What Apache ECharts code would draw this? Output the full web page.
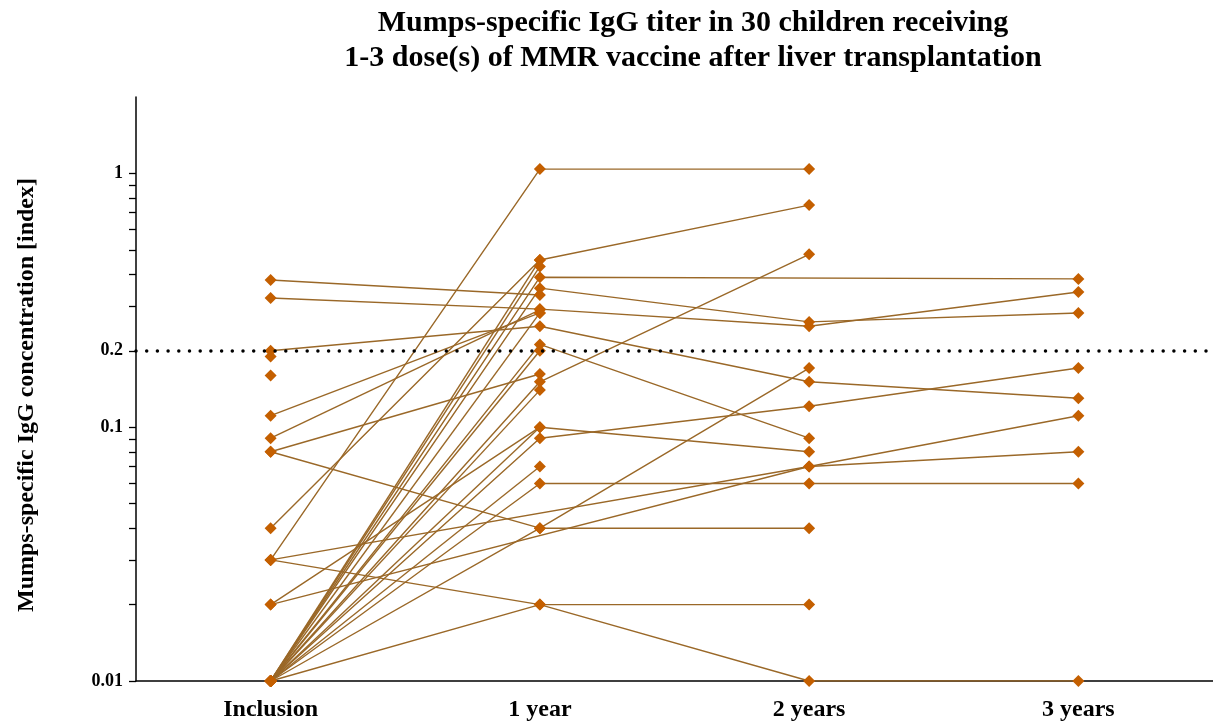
<!DOCTYPE html>
<html>
<head>
<meta charset="utf-8">
<script src="https://cdn.jsdelivr.net/npm/echarts@6/dist/echarts.min.js"></script>
<style>
html,body{margin:0;padding:0;background:#fff;}
#chart{width:1213px;height:723px;}
</style>
</head>
<body>
<div id="chart"></div>
<script>
// Timepoints
const categories = ['Inclusion', '1 year', '2 years', '3 years'];
// One entry per child (30 children); null = no measurement
const inclusion = [0.38, 0.323, 0.2, 0.19, 0.16, 0.111, 0.0905, 0.08, 0.08, 0.04,
                   0.03, 0.03, 0.03, 0.02, 0.02, 0.01, 0.01, 0.01, 0.01, 0.01,
                   0.01, 0.01, 0.01, 0.01, 0.01, 0.01, 0.01, 0.01, 0.01, 0.01];
const year1 = [0.332, 0.292, 0.25, null, null, 0.282, 0.29, 0.162, 0.04, 0.456,
               1.04, 0.02, null, 0.1, null, 0.456, 0.43, 0.39, 0.353, 0.282,
               0.212, 0.2, 0.151, 0.14, 0.1, 0.0905, 0.07, 0.06, 0.04, 0.02];
const year2 = [null, 0.25, 0.151, null, null, null, null, null, 0.04, 0.75,
               1.04, 0.01, 0.07, 0.08, 0.07, null, null, null, 0.26, null,
               0.0905, null, 0.48, null, null, 0.121, null, 0.06, 0.171, 0.02];
const year3 = [null, 0.341, 0.13, null, null, null, null, null, null, null,
               null, 0.01, 0.111, null, 0.08, null, null, 0.384, 0.282, null,
               null, null, null, null, null, 0.171, null, 0.06, null, null];
const thresholdValue = 0.2;
const yTickValues = [0.01, 0.02, 0.03, 0.04, 0.05, 0.06, 0.07, 0.08, 0.09,
                     0.1, 0.2, 0.3, 0.4, 0.5, 0.6, 0.7, 0.8, 0.9, 1];
const yLabelValues = [0.01, 0.1, 0.2, 1];

const FONT = '"Liberation Serif", "DejaVu Serif", serif';
const chart = echarts.init(document.getElementById('chart'), null, {renderer: 'canvas'});

const series = inclusion.map((v, i) => ({
  type: 'line',
  name: 'child' + (i + 1),
  data: [v, year1[i], year2[i], year3[i]],
  connectNulls: true,
  symbol: 'diamond',
  symbolSize: 12,
  showAllSymbol: true,
  itemStyle: {color: '#c45f00'},
  lineStyle: {color: '#9a6828', width: 1.4},
  emphasis: {disabled: true},
  silent: true,
  z: 3,
  animation: false
}));
series.push({
  type: 'line',
  name: 'threshold',
  data: [],
  silent: true,
  animation: false,
  markLine: {
    silent: true,
    symbol: ['none', 'none'],
    label: {show: false},
    lineStyle: {color: '#000', width: 3.5, type: [0, 10.7], cap: 'round'},
    data: [{yAxis: thresholdValue}],
    animation: false
  }
});

chart.setOption({
  animation: false,
  backgroundColor: '#fff',
  title: {
    text: 'Mumps-specific IgG titer in 30 children receiving\n1-3 dose(s) of MMR vaccine after liver transplantation',
    left: 688,
    top: 1,
    textAlign: 'center',
    textStyle: {fontFamily: FONT, fontSize: 30, fontWeight: 'bold', color: '#000', lineHeight: 35}
  },
  grid: {left: 136, right: -3, top: 97, bottom: 42, containLabel: false},
  xAxis: {
    type: 'category',
    data: categories,
    boundaryGap: true,
    axisLine: {lineStyle: {color: '#000', width: 1.5}},
    axisTick: {alignWithLabel: true, length: 7, lineStyle: {color: '#000', width: 1.5}},
    axisLabel: {fontFamily: FONT, fontSize: 24, fontWeight: 'bold', color: '#000', margin: 17},
    splitLine: {show: false}
  },
  yAxis: {
    type: 'log',
    logBase: 10,
    min: 0.01,
    max: 2,
    name: 'Mumps-specific IgG concentration [index]',
    nameLocation: 'middle',
    nameRotate: 90,
    nameGap: 97,
    nameTextStyle: {fontFamily: FONT, fontSize: 24, fontWeight: 'bold', color: '#000', padding: [0, 12, 0, 0]},
    axisLine: {show: true, lineStyle: {color: '#000', width: 1.5}},
    axisTick: {show: true, length: 7, customValues: yTickValues, lineStyle: {color: '#000', width: 1.3}},
    axisLabel: {
      customValues: yLabelValues,
      fontFamily: FONT, fontSize: 18, fontWeight: 'bold', color: '#000', margin: 13,
      formatter: v => String(+v.toPrecision(3))
    },
    splitLine: {show: false},
    minorTick: {show: false}
  },
  series: series
});
</script>
</body>
</html>
